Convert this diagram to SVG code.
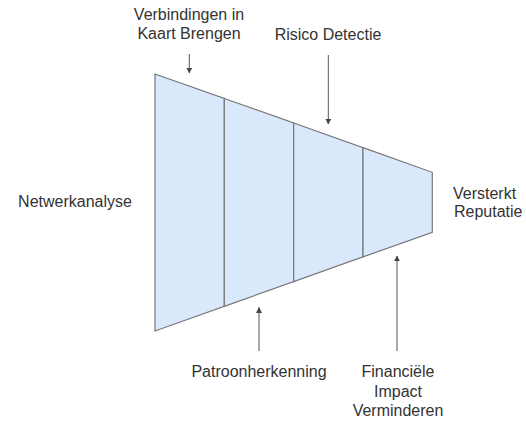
<svg xmlns="http://www.w3.org/2000/svg" width="526" height="422" viewBox="0 0 526 422">
<style>
.seg{fill:#dae8fc;stroke:#777777;stroke-width:1.2}
.lbl{font-family:"Liberation Sans",Arial,sans-serif;font-size:16px;fill:#333333;text-anchor:middle}
.lft{text-anchor:start}
.arr{stroke:#555555;stroke-width:1;fill:none;marker-end:url(#ah)}
</style>
<defs>
<marker id="ah" viewBox="0 0 10 10" refX="9" refY="5" markerWidth="6" markerHeight="6" orient="auto" markerUnits="userSpaceOnUse">
<path d="M0,0 L10,5 L0,10 z" fill="#444444"/>
</marker>
</defs>
<rect width="526" height="422" fill="#ffffff"/>
<g id="funnel">
<g id="seg1"><polygon class="seg" points="155,74 224.3,98.5 224.3,306.3 155,331"/></g>
<g id="seg2"><polygon class="seg" points="224.3,98.5 293.7,123 293.7,281.6 224.3,306.3"/></g>
<g id="seg3"><polygon class="seg" points="293.7,123 363,147.6 363,256.9 293.7,281.6"/></g>
<g id="seg4"><polygon class="seg" points="363,147.6 432.3,172.3 432.3,232.3 363,256.9"/></g>
</g>
<g id="connectors">
<line class="arr" x1="189.3" y1="54" x2="189.3" y2="73"/>
<line class="arr" x1="328.3" y1="55" x2="328.3" y2="124"/>
<line class="arr" x1="259" y1="351" x2="259" y2="307.5"/>
<line class="arr" x1="397" y1="351" x2="397" y2="256"/>
</g>
<g id="label-verbindingen"><text class="lbl" x="189" y="20">Verbindingen in</text><text class="lbl" x="189" y="39">Kaart Brengen</text></g>
<g id="label-risico"><text class="lbl" x="328" y="40">Risico Detectie</text></g>
<g id="label-netwerk"><text class="lbl" x="75" y="207">Netwerkanalyse</text></g>
<g id="label-versterkt"><text class="lbl lft" x="453" y="199">Versterkt</text><text class="lbl lft" x="454" y="217">Reputatie</text></g>
<g id="label-patroon"><text class="lbl" x="259" y="377">Patroonherkenning</text></g>
<g id="label-financiele"><text class="lbl" x="398" y="377">Financiële</text><text class="lbl" x="398" y="396.5">Impact</text><text class="lbl" x="398" y="416">Verminderen</text></g>
</svg>
